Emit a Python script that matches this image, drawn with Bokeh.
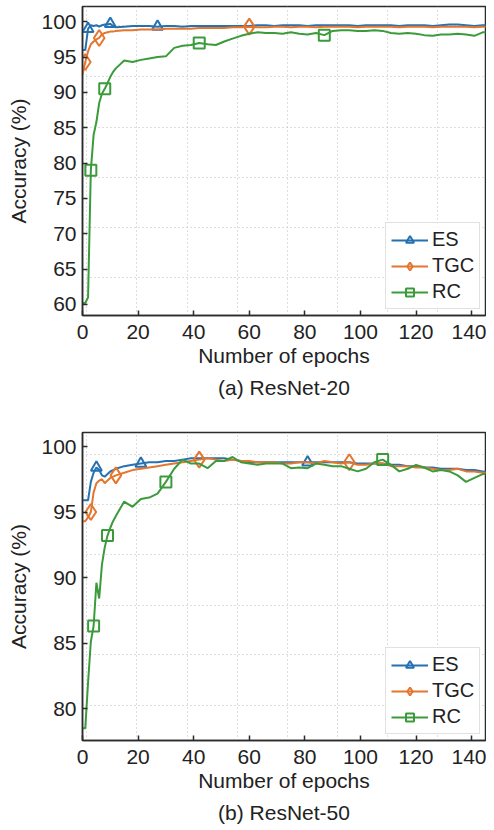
import numpy as np
from bokeh.plotting import figure
from bokeh.models import Range1d, FixedTicker, Legend, LegendItem, Title
from bokeh.layouts import column
from bokeh.embed import file_html
from bokeh.resources import INLINE

# ---------------- data ----------------
EPOCHS = [0, 1, 2, 3, 4, 5, 6, 7, 8, 9, 10, 11, 12,
          15, 18, 21, 24, 27, 30, 33, 36, 39, 42, 45, 48, 51, 54, 57,
          60, 63, 66, 69, 72, 75, 78, 81, 84, 87, 90, 93, 96, 99, 102,
          105, 108, 111, 114, 117, 120, 123, 126, 129, 132, 135, 138, 141, 144, 147]

# (a) ResNet-20
R20_ES = [96.0, 96.0, 99.0, 99.5, 99.4, 99.5, 99.3, 99.5, 99.6, 99.6, 99.7, 99.4, 99.2,
          99.3, 99.4, 99.4, 99.4, 99.3, 99.4, 99.4, 99.3, 99.4, 99.4, 99.4, 99.4, 99.4, 99.4, 99.4,
          99.4, 99.5, 99.5, 99.4, 99.5, 99.5, 99.5, 99.4, 99.5, 99.5, 99.5, 99.5, 99.5, 99.4, 99.5,
          99.5, 99.5, 99.5, 99.4, 99.5, 99.5, 99.5, 99.4, 99.5, 99.6, 99.6, 99.5, 99.4, 99.5, 99.5]
R20_TGC = [92.5, 94.3, 95.8, 96.8, 97.2, 97.5, 97.7, 98.2, 98.4, 98.5, 98.6, 98.6, 98.7,
           98.8, 98.8, 98.9, 98.9, 98.9, 99.0, 99.0, 99.0, 99.0, 99.1, 99.1, 99.1, 99.1, 99.2, 99.2,
           99.3, 99.2, 99.2, 99.3, 99.3, 99.2, 99.3, 99.3, 99.2, 99.3, 99.3, 99.3, 99.3, 99.2, 99.3,
           99.3, 99.3, 99.3, 99.2, 99.3, 99.3, 99.3, 99.2, 99.3, 99.3, 99.3, 99.3, 99.2, 99.3, 99.3]
R20_RC = [60.2, 60.2, 61.0, 79.0, 84.0, 85.8, 88.5, 89.8, 90.5, 91.3, 92.2, 92.9, 93.4,
          94.5, 94.3, 94.6, 94.8, 95.0, 95.1, 96.3, 96.6, 96.7, 97.0, 96.8, 96.7, 97.2, 97.6, 98.0,
          98.3, 98.5, 98.4, 98.4, 98.3, 98.5, 98.3, 98.2, 98.4, 98.1, 98.7, 98.8, 98.8, 98.7, 98.7,
          98.8, 98.7, 98.4, 98.3, 98.4, 98.3, 98.1, 98.0, 98.2, 98.2, 98.3, 98.2, 98.0, 98.5, 98.5]
R20_MARKS = {"ES": [2, 10, 27], "TGC": [1, 6, 60], "RC": [3, 8, 42, 87]}

# (b) ResNet-50
R50_ES = [95.9, 95.9, 95.9, 97.3, 98.0, 98.4, 98.2, 97.8, 97.7, 97.9, 98.1, 98.2, 98.3,
          98.5, 98.6, 98.7, 98.8, 98.8, 98.9, 98.9, 99.0, 99.1, 99.1, 99.1, 99.1, 99.1, 99.0, 98.9,
          98.8, 98.8, 98.8, 98.8, 98.8, 98.8, 98.8, 98.8, 98.8, 98.8, 98.8, 98.8, 98.8, 98.7, 98.7,
          98.7, 98.7, 98.6, 98.6, 98.5, 98.5, 98.4, 98.4, 98.3, 98.3, 98.3, 98.2, 98.2, 98.1, 98.0]
R50_TGC = [94.3, 94.3, 94.6, 95.0, 96.5, 97.2, 97.4, 97.5, 97.2, 97.4, 97.6, 97.7, 97.8,
           98.0, 98.2, 98.3, 98.4, 98.5, 98.6, 98.7, 98.8, 98.9, 99.0, 99.1, 99.0, 98.9, 99.0, 98.9,
           98.9, 98.8, 98.8, 98.8, 98.7, 98.7, 98.8, 98.8, 98.7, 98.9, 98.8, 98.7, 98.8, 98.6, 98.6,
           98.7, 98.7, 98.5, 98.5, 98.5, 98.4, 98.4, 98.3, 98.2, 98.2, 98.3, 98.1, 98.1, 98.0, 98.0]
R50_RC = [78.5, 78.5, 82.0, 85.1, 86.3, 89.6, 88.4, 91.0, 92.3, 93.2, 93.8, 94.3, 94.7,
          95.8, 95.4, 96.0, 96.1, 96.4, 97.3, 98.3, 99.0, 98.7, 98.7, 98.35, 98.9, 98.9, 99.2, 98.8,
          98.7, 98.6, 98.7, 98.7, 98.7, 98.35, 98.4, 98.35, 98.7, 98.6, 98.5, 98.5, 98.3, 98.1, 98.3,
          98.8, 99.0, 98.6, 98.1, 98.3, 98.6, 98.4, 98.1, 98.2, 98.1, 97.8, 97.3, 97.6, 97.9, 97.9]
R50_MARKS = {"ES": [5, 21, 81], "TGC": [3, 12, 42, 96], "RC": [4, 9, 30, 108]}

X_TICKS = [0, 20, 40, 60, 80, 100, 120, 140]
R20_Y_TICKS = [60, 65, 70, 75, 80, 85, 90, 95, 100]
R50_Y_TICKS = [80, 85, 90, 95, 100]

# ---------------- style ----------------
FONT = "Liberation Sans"
COLORS = {"ES": "#2571b2", "TGC": "#e4762f", "RC": "#3b9b3b"}
MARKERS = {"ES": ("triangle", 11), "TGC": ("diamond", 16), "RC": ("square", 11)}
GRID_X = [1.6, 19.6, 37.6, 55.6, 73.6, 91.6, 109.6, 127.6, 145.6]
R20_GRID_Y = [63.8, 70.9, 78.0, 85.0, 92.2, 99.4]
R50_GRID_Y = [80.2, 84.1, 87.9, 91.75, 95.6, 99.4]
DARK = "#2b2b2b"
TXT = "#222222"


def make_fig(series, marks, y_range, y_ticks, grid_y, caption, top_border, frame_h):
    p = figure(frame_width=403, frame_height=frame_h, output_backend="svg",
               toolbar_location=None, x_range=Range1d(0, 145.0), y_range=Range1d(*y_range),
               min_border_left=82, min_border_right=1, min_border_top=top_border,
               min_border_bottom=0, background_fill_color="white",
               border_fill_color="white")
    p.outline_line_color = DARK
    p.outline_line_width = 1.5

    for g, gt in ((p.xgrid, GRID_X), (p.ygrid, grid_y)):
        g.ticker = FixedTicker(ticks=gt)
        g.grid_line_color = "#bdbdbd"
        g.grid_line_dash = "1 3"
        g.grid_line_width = 1

    for ax in (p.xaxis[0], p.yaxis[0]):
        ax.major_tick_in = 5
        ax.major_tick_out = 0
        ax.minor_tick_line_color = None
        ax.axis_line_color = DARK
        ax.axis_line_width = 1.5
        ax.major_tick_line_color = DARK
        ax.major_tick_line_width = 1.5
        ax.major_label_text_font = FONT
        ax.major_label_text_font_size = "21px"
        ax.major_label_text_color = TXT
        ax.axis_label_text_font = FONT
        ax.axis_label_text_font_size = "21px"
        ax.axis_label_text_font_style = "normal"
        ax.axis_label_text_color = TXT
    p.xaxis.ticker = FixedTicker(ticks=X_TICKS)
    p.yaxis.ticker = FixedTicker(ticks=y_ticks)
    p.xaxis.axis_label = "Number of epochs"
    p.yaxis.axis_label = "Accuracy (%)"
    p.xaxis.major_label_standoff = 9
    p.xaxis.axis_label_standoff = 2
    p.yaxis.major_label_standoff = 6
    p.yaxis.axis_label_standoff = 8

    items = []
    for name, ys in series:
        lr = p.line(EPOCHS, ys, line_color=COLORS[name], line_width=2)
        lookup = dict(zip(EPOCHS, ys))
        mx = marks[name]
        my = [lookup[e] for e in mx]
        mk, sz = MARKERS[name]
        sr = p.scatter(mx, my, marker=mk, size=sz, line_color=COLORS[name],
                       line_width=2, fill_color=None)
        items.append(LegendItem(label=name, renderers=[lr, sr]))

    legend = Legend(items=items, location=(303, 6), orientation="vertical",
                    label_text_font=FONT, label_text_font_size="20px",
                    label_text_color=TXT, glyph_width=37, glyph_height=20,
                    label_height=20, label_standoff=4, spacing=3, padding=5, margin=0,
                    border_line_color="#c4c4c4", border_line_width=1.5,
                    background_fill_color="white", background_fill_alpha=0.85)
    p.add_layout(legend)

    p.add_layout(Title(text=caption, align="center", text_font=FONT,
                       text_font_size="21px", text_font_style="normal",
                       text_color=TXT, standoff=8), "below")
    return p


p1 = make_fig([("ES", R20_ES), ("TGC", R20_TGC), ("RC", R20_RC)], R20_MARKS,
              (58.44, 102.15), R20_Y_TICKS, R20_GRID_Y, "(a) ResNet-20", 6, 309)
p2 = make_fig([("ES", R50_ES), ("TGC", R50_TGC), ("RC", R50_RC)], R50_MARKS,
              (77.56, 101.07), R50_Y_TICKS, R50_GRID_Y, "(b) ResNet-50", 30, 308)

layout = column(p1, p2, spacing=0)
open("out.html", "w").write(file_html(layout, INLINE))
